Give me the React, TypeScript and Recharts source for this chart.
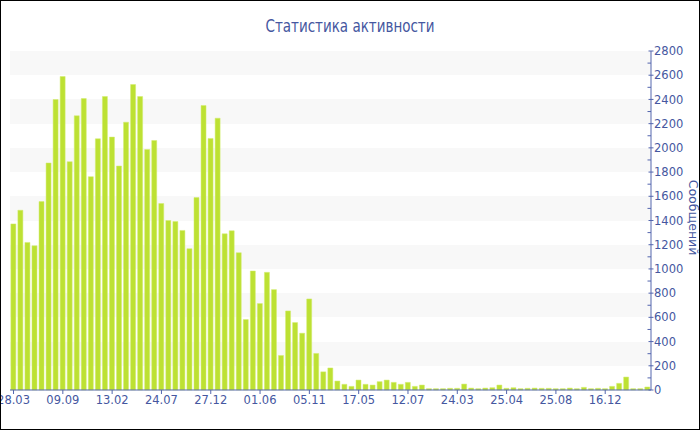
import React from 'react';
import { BarChart, Bar, XAxis, YAxis, CartesianGrid, Label } from 'recharts';

const messages: number[] = [
  1372, 1485, 1219, 1191, 1556, 1875, 2399, 2589, 1886, 2265,
  2407, 1762, 2075, 2424, 2089, 1850, 2212, 2523, 2424, 1987,
  2061, 1540, 1400, 1392, 1318, 1167, 1589, 2350, 2078, 2245,
  1290, 1315, 1134, 582, 983, 714, 972, 829, 285, 653,
  557, 469, 752, 302, 150, 182, 74, 47, 30, 82,
  47, 41, 69, 82, 63, 47, 63, 30, 41, 11,
  11, 11, 14, 14, 49, 16, 11, 16, 19, 41,
  14, 19, 11, 14, 16, 14, 14, 11, 11, 16,
  11, 22, 11, 14, 11, 30, 55, 107, 11, 11,
  25,
];

const tickLabels: string[] = [
  '28.03', '09.09', '13.02', '24.07', '27.12', '01.06', '05.11',
  '17.05', '12.07', '24.03', '25.04', '25.08', '16.12',
];
const tickStep = 7;
const tickIndices: number[] = tickLabels.map((_, k) => k * tickStep);

const yTicks: number[] = Array.from({ length: 29 }, (_, k) => k * 100);

const data = messages.map((v, i) => ({ i, v }));

const BLUE = '#4557a0';
const AXIS = '#5466ae';
const FONT = "'DejaVu Sans', Verdana, sans-serif";

const YTick = (props: any) => {
  const { x, y, payload } = props;
  const v = payload.value as number;
  const major = v % 200 === 0;
  return (
    <g>
      {major ? (
        <line x1={x - 2.5} x2={x + 2.5} y1={y} y2={y} stroke={AXIS} strokeWidth={1} />
      ) : (
        <line x1={x - 3.5} x2={x} y1={y} y2={y} stroke={AXIS} strokeWidth={1} />
      )}
      {major && (
        <text x={x + 3} y={y} dy="0.36em" textAnchor="start" fill={BLUE} fontSize={11.5} fontFamily={FONT}>
          {v}
        </text>
      )}
    </g>
  );
};

const YLabel = (props: any) => {
  const vb = props.viewBox || {};
  const cx = vb.x + 42;
  const cy = vb.y + vb.height / 2 - 3;
  return (
    <text
      x={cx}
      y={cy}
      transform={`rotate(90, ${cx}, ${cy})`}
      textAnchor="middle"
      dominantBaseline="central"
      fill={BLUE}
      fontSize={12.5}
      fontFamily={FONT}
    >
      Сообщений
    </text>
  );
};

export default function App() {
  return (
    <div style={{ position: 'relative', width: 700, height: 430, background: '#fff' }}>
      <style>{'body{margin:0}'}</style>
      <BarChart
        width={700}
        height={430}
        data={data}
        margin={{ top: 51, right: 7, bottom: 0, left: 10 }}
        barCategoryGap="12%"
      >
        <CartesianGrid
          vertical={false}
          stroke="transparent"
          horizontalFill={['#f8f8f8', '#f8f8f8', '#ffffff', '#ffffff']}
          fillOpacity={1}
        />
        <XAxis
          dataKey="i"
          type="category"
          ticks={tickIndices}
          interval={0}
          height={40}
          tickFormatter={(v: number) => tickLabels[Math.round(v / tickStep)] ?? ''}
          axisLine={{ stroke: AXIS }}
          tickLine={{ stroke: AXIS }}
          tickSize={4}
          tickMargin={2}
          tick={{ fill: BLUE, fontSize: 11.5, fontFamily: FONT }}
        />
        <YAxis
          orientation="right"
          domain={[0, 2800]}
          ticks={yTicks}
          interval={0}
          width={42}
          axisLine={{ stroke: AXIS }}
          tickLine={false}
          tickSize={0}
          tickMargin={0}
          tick={<YTick />}
        >
          <Label content={<YLabel />} />
        </YAxis>
        <Bar dataKey="v" fill="#bde133" stroke="#d2ec6e" strokeWidth={0.5} isAnimationActive={false} />
      </BarChart>
      <svg width={700} height={60} style={{ position: 'absolute', left: 0, top: 0, pointerEvents: 'none' }}>
        <text
          x={350}
          y={32}
          textAnchor="middle"
          fill={BLUE}
          fontSize={18.5}
          fontFamily="'Liberation Sans Narrow', 'DejaVu Sans Condensed', sans-serif"
          textLength={169}
          lengthAdjust="spacingAndGlyphs"
        >
          Статистика активности
        </text>
      </svg>
      <div
        style={{
          position: 'absolute',
          inset: 0,
          border: '1px solid #000',
          boxSizing: 'border-box',
          pointerEvents: 'none',
        }}
      />
    </div>
  );
}
